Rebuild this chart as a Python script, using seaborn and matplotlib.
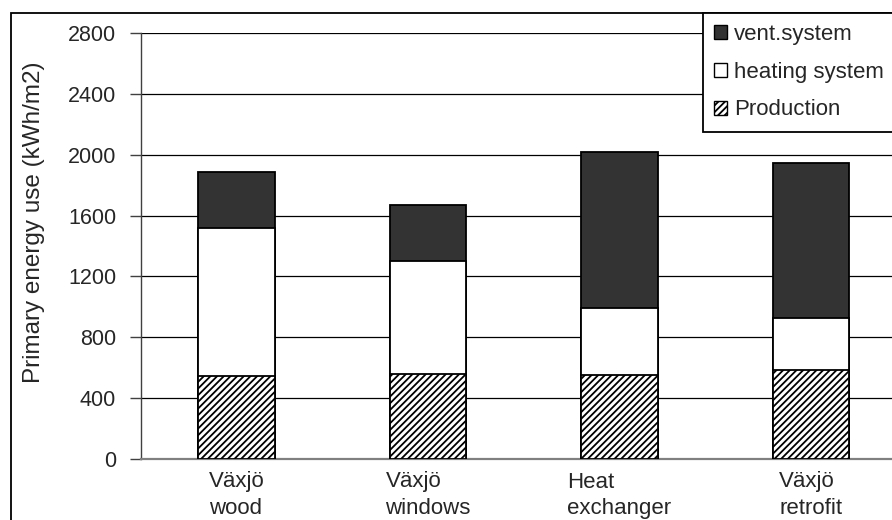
import numpy as np
import pandas as pd
import matplotlib
matplotlib.use("Agg")
import matplotlib.pyplot as plt
import matplotlib.patches as mpatches
import seaborn as sns

# values (kWh/m2)
cases = ["Växjö\nwood", "Växjö\nwindows", "Heat\nexchanger", "Växjö\nretrofit"]
production = [544, 561, 555, 583]
heating = [975, 740, 440, 342]
vent = [370, 370, 1024, 1023]
yticks = [0, 400, 800, 1200, 1600, 2000, 2400, 2800]

sns.set_style("white")
plt.rcParams['font.family'] = ['Liberation Sans', 'DejaVu Sans']
plt.rcParams['hatch.linewidth'] = 1.3

df = pd.DataFrame({"case": cases, "production": production,
                   "heating": heating, "vent": vent})
df["lvl1"] = df["production"]
df["lvl2"] = df["production"] + df["heating"]
df["lvl3"] = df["lvl2"] + df["vent"]

fig = plt.figure(figsize=(8.92, 5.20), dpi=100)
ax = fig.add_axes([141 / 892, 1 - 459 / 520, 1 - 141 / 892 + 0.01, (459 - 33) / 520])

bar_kw = dict(width=0.4, edgecolor="black", linewidth=1.3, order=cases, ax=ax, zorder=3)
sns.barplot(data=df, x="case", y="lvl3", color="#333333", saturation=1, **bar_kw)
sns.barplot(data=df, x="case", y="lvl2", color="white", saturation=1, **bar_kw)
sns.barplot(data=df, x="case", y="lvl1", color="white", saturation=1, hatch="/////", **bar_kw)

ax.set_ylim(0, 2800)
ax.set_yticks(yticks)
ax.set_xlim(-0.5, 3.47)
ax.yaxis.grid(True, color="black", linewidth=0.9, zorder=0)
ax.set_axisbelow(True)
for s in ["top", "right"]:
    ax.spines[s].set_visible(False)
ax.spines["left"].set_color("#404040")
ax.spines["left"].set_linewidth(1.0)
ax.spines["bottom"].set_color("#808080")
ax.spines["bottom"].set_linewidth(1.6)

ax.tick_params(axis="y", length=8, width=1, color="#404040", labelsize=15.5, pad=10,
               direction="out", left=True)
ax.tick_params(axis="x", length=0, labelsize=16, pad=9)
for lab in ax.get_xticklabels():
    lab.set_multialignment("left")
    lab.set_linespacing(1.35)

ax.set_xlabel("")
ax.set_ylabel("Primary energy use (kWh/m2)", fontsize=17.5)
ax.yaxis.set_label_coords(-0.126, 0.555)

# outer chart frame
fig.patches.append(mpatches.Rectangle((11 / 892, -0.05), 1.2, 1 - 13 / 520 + 0.05,
                                      transform=fig.transFigure, fill=False,
                                      edgecolor="black", linewidth=1.3, zorder=0))

handles = [mpatches.Patch(facecolor="#333333", edgecolor="black", label="vent.system"),
           mpatches.Patch(facecolor="white", edgecolor="black", label="heating system"),
           mpatches.Patch(facecolor="white", edgecolor="black", hatch="/////", label="Production")]
leg = fig.legend(handles=handles, loc="upper left", bbox_to_anchor=(703 / 892, 1 - 13 / 520),
                 bbox_transform=fig.transFigure, borderaxespad=0, fontsize=16,
                 handlelength=0.6, handleheight=0.6, handletextpad=0.3,
                 labelspacing=0.75, borderpad=0.5, fancybox=False, framealpha=1,
                 edgecolor="black")
leg.get_frame().set_linewidth(1.3)

fig.savefig("out.png", dpi=100)
